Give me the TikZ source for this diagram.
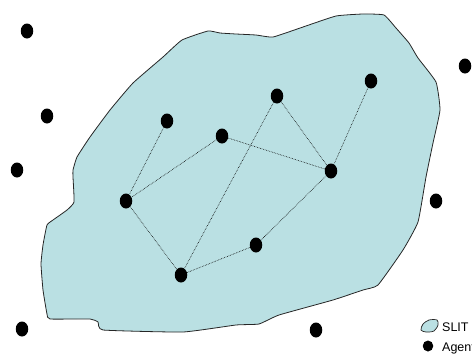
\documentclass[tikz,border=0pt]{standalone}
\usepackage{fontspec}
\setmainfont{Liberation Sans}
\usetikzlibrary{shapes.geometric}
\definecolor{slit}{RGB}{186,224,227}
\begin{document}
\begin{tikzpicture}[x=1pt,y=-1pt,
  agent/.style={ellipse,fill=black,inner sep=0pt,minimum width=12.5pt,minimum height=15pt},
  link/.style={densely dotted,line width=0.6pt},
  region/.style={fill=slit,draw=black!85,line width=0.8pt},
  lbl/.style={font=\fontsize{12.5}{14}\selectfont,anchor=base west,inner sep=0pt}]
\useasboundingbox (0,0) rectangle (472,354);
\clip (0,0) rectangle (472,354);
% SLIT region
\draw[region] plot[smooth cycle,tension=0.25] coordinates {
 (208,31) (220,33) (236,34) (256,35) (273,37) (303,27) (336,16) (363,14) (384,15)
 (396,28) (409,43) (418,58) (436,82) (440,110) (433,143) (426,177) (418,222)
 (403,250) (378,285) (363,290) (333,300) (279,315) (259,324) (236,325) (183,332)
 (103,330) (98,322) (90,319) (50,319) (47,314) (43,290) (41,264) (43,245) (47,225)
 (53,220) (67,210) (74,202) (73,177) (73,170) (77,157) (90,137) (110,110) (133,83)
 (163,57) (182,40)};
% inner agents
\node[agent] (a1) at (167,121) {};
\node[agent] (a2) at (222,136) {};
\node[agent] (a3) at (277,96) {};
\node[agent] (a4) at (371,81) {};
\node[agent] (a5) at (331,171) {};
\node[agent] (a6) at (126,201) {};
\node[agent] (a7) at (181,275) {};
\node[agent] (a8) at (256,245) {};
% outer agents
\node[agent] (o1) at (27,31) {};
\node[agent] (o2) at (47,116) {};
\node[agent] (o3) at (17,170) {};
\node[agent] (o4) at (465,66) {};
\node[agent] (o5) at (436,201) {};
\node[agent] (o6) at (22,329) {};
\node[agent] (o7) at (316,330) {};
% links
\draw[link] (a1) -- (a6);
\draw[link] (a2) -- (a6);
\draw[link] (a2) -- (a5);
\draw[link] (a3) -- (a5);
\draw[link] (a3) -- (a7);
\draw[link] (a4) -- (a5);
\draw[link] (a6) -- (a7);
\draw[link] (a7) -- (a8);
\draw[link] (a8) -- (a5);
% legend
\draw[region,line width=0.7pt] plot[smooth cycle,tension=0.5] coordinates {
 (421,330) (423,324) (429,320) (437,320) (438,325) (434,331) (426,332)};
\node[lbl] (t1) at (442,331) {SLIT};
\node[agent,minimum width=10.5pt,minimum height=11pt] (la) at (428,346) {};
\node[lbl] (t2) at (442,351) {Agents};
\end{tikzpicture}
\end{document}
